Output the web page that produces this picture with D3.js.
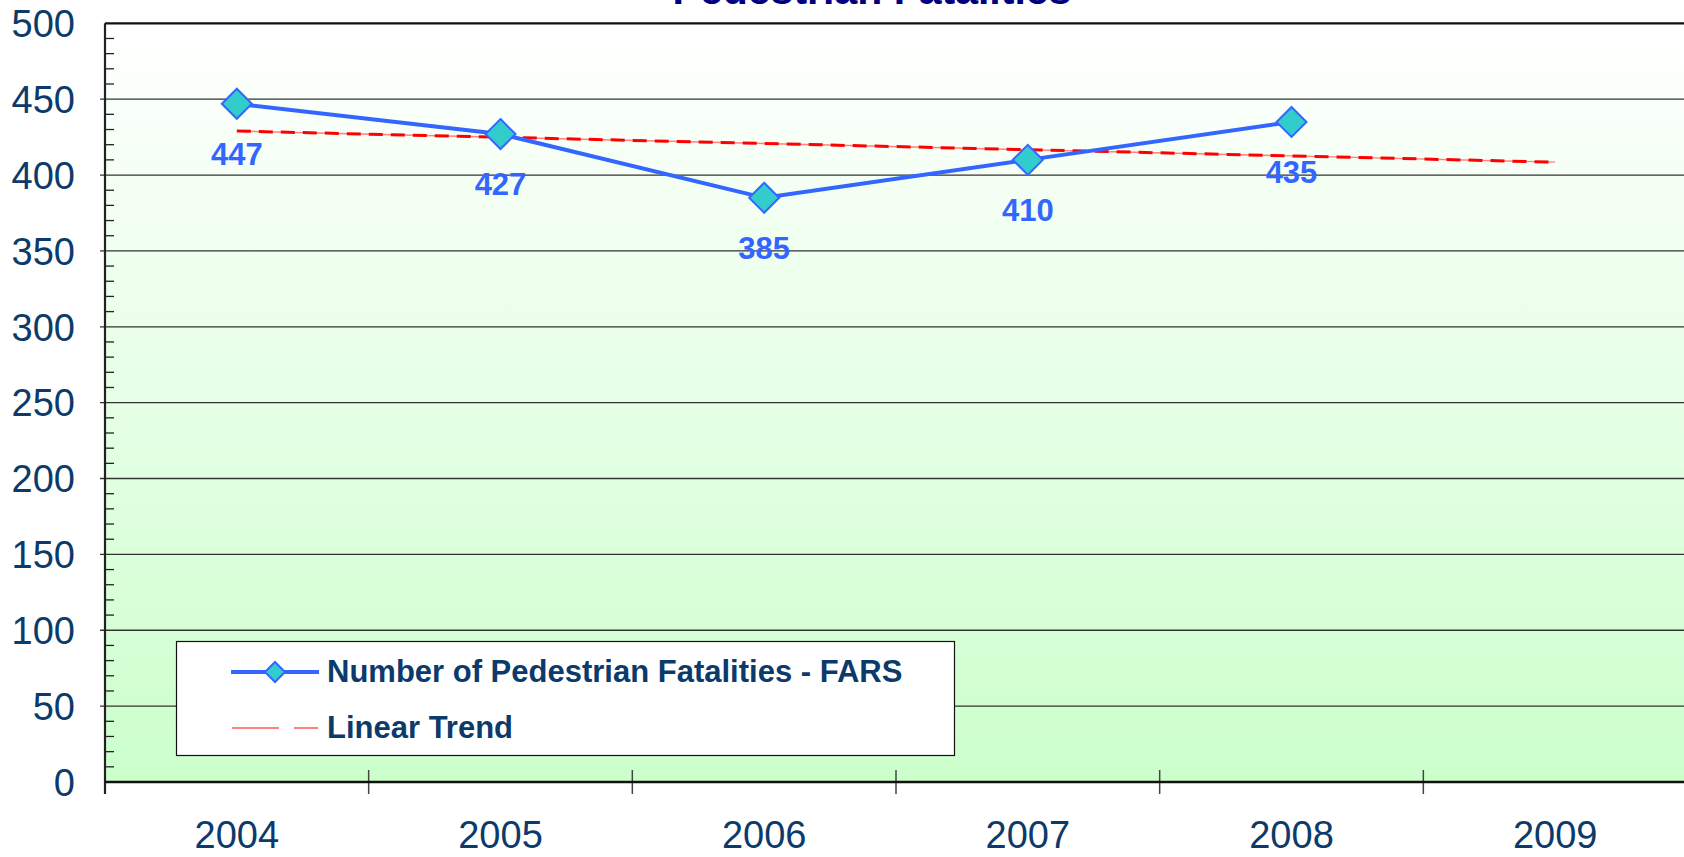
<html>
<head>
<script src="https://d3js.org/d3.v7.min.js"></script>
<style>
  body { margin: 0; background: #fff; }
  svg { display: block; font-family: "Liberation Sans", Arial, sans-serif; }
</style>
</head>
<body>
<svg id="chart" width="1684" height="857"></svg>
<script>
// data
const years = ["2004", "2005", "2006", "2007", "2008", "2009"];
const fatalities = [447, 427, 385, 410, 435];
const trend = [429, 424.9, 420.8, 416.7, 412.6, 408.5];
const yTicks = [0, 50, 100, 150, 200, 250, 300, 350, 400, 450, 500];
const minorTicks = d3.range(0, 501, 10);

const svg = d3.select("#chart");
const plot = {left: 105, right: 1687, top: 23.3, bottom: 782};
const navy = "#0b3a6b";

const x = d3.scaleBand().domain(years).range([plot.left, plot.right]).padding(0);
const y = d3.scaleLinear().domain([0, 500]).range([plot.bottom, plot.top]);
const cx = d => x(d) + x.bandwidth() / 2;

// background gradient
const grad = svg.append("defs").append("linearGradient")
    .attr("id", "bg").attr("x1", 0).attr("y1", 0).attr("x2", 0).attr("y2", 1);
grad.append("stop").attr("offset", "0%").attr("stop-color", "#ffffff");
grad.append("stop").attr("offset", "8%").attr("stop-color", "#fbfffb");
grad.append("stop").attr("offset", "100%").attr("stop-color", "#ccffcc");

svg.append("rect")
    .attr("x", plot.left).attr("y", plot.top)
    .attr("width", plot.right - plot.left).attr("height", plot.bottom - plot.top)
    .attr("fill", "url(#bg)");

// gridlines
svg.append("g").selectAll("line").data(yTicks.filter(d => d > 0 && d < 500)).join("line")
    .attr("x1", plot.left - 5).attr("x2", plot.right)
    .attr("y1", d => y(d)).attr("y2", d => y(d))
    .attr("stroke", "#333").attr("stroke-width", 1.3);

// top border
svg.append("line")
    .attr("x1", plot.left).attr("x2", plot.right)
    .attr("y1", plot.top).attr("y2", plot.top)
    .attr("stroke", "#111").attr("stroke-width", 2.2);

// y axis
const yAxis = d3.axisLeft(y).tickValues(yTicks).tickSize(0).tickPadding(30);
const gy = svg.append("g").attr("transform", "translate(" + plot.left + ",0)").call(yAxis);
gy.select(".domain").remove();
gy.selectAll("text").attr("font-size", 38).attr("fill", navy).attr("dy", "0.35em");

svg.append("g").selectAll("line").data(minorTicks.filter(d => d % 50 != 0)).join("line")
    .attr("x1", plot.left).attr("x2", plot.left + 9)
    .attr("y1", d => y(d)).attr("y2", d => y(d))
    .attr("stroke", "#222").attr("stroke-width", 1.3);

svg.append("line")
    .attr("x1", plot.left).attr("x2", plot.left)
    .attr("y1", plot.top).attr("y2", plot.bottom + 12)
    .attr("stroke", "#222").attr("stroke-width", 2.2);

// x axis
const xAxis = d3.axisBottom(x).tickSize(0).tickPadding(39);
const gx = svg.append("g").attr("transform", "translate(0," + plot.bottom + ")").call(xAxis);
gx.select(".domain").remove();
gx.selectAll("text").attr("font-size", 38).attr("fill", navy);

svg.append("g").selectAll("line").data(years.slice(1)).join("line")
    .attr("x1", d => x(d)).attr("x2", d => x(d))
    .attr("y1", plot.bottom - 12).attr("y2", plot.bottom + 12)
    .attr("stroke", "#444").attr("stroke-width", 1.5);

svg.append("line")
    .attr("x1", plot.left).attr("x2", plot.right)
    .attr("y1", plot.bottom).attr("y2", plot.bottom)
    .attr("stroke", "#111").attr("stroke-width", 2.5);

// title (mostly cut off at the top)
svg.append("text")
    .attr("x", 872).attr("y", 4)
    .attr("text-anchor", "middle")
    .attr("font-size", 41).attr("font-weight", "bold")
    .attr("fill", "#000080")
    .text("Pedestrian Fatalities");

// trend line
const trendLine = d3.line().x((d, i) => cx(years[i])).y(d => y(d));
svg.append("path").datum(trend)
    .attr("d", trendLine).attr("fill", "none")
    .attr("stroke", "#ff8080").attr("stroke-width", 1.4);
svg.append("path").datum(trend)
    .attr("d", trendLine).attr("fill", "none")
    .attr("stroke", "#ff0000").attr("stroke-width", 3)
    .attr("stroke-dasharray", "14,8");

// fatalities series
const line = d3.line().x((d, i) => cx(years[i])).y(d => y(d));
svg.append("path").datum(fatalities)
    .attr("d", line).attr("fill", "none")
    .attr("stroke", "#3366ff").attr("stroke-width", 4);

const diamond = r => "M0," + (-r) + "L" + r + ",0L0," + r + "L" + (-r) + ",0Z";

svg.append("g").selectAll("path").data(fatalities).join("path")
    .attr("transform", (d, i) => "translate(" + cx(years[i]) + "," + y(d) + ")")
    .attr("d", diamond(15))
    .attr("fill", "#33cccc").attr("stroke", "#3366ff").attr("stroke-width", 2);

svg.append("g").selectAll("text").data(fatalities).join("text")
    .attr("x", (d, i) => cx(years[i]))
    .attr("y", d => y(d) + 61)
    .attr("text-anchor", "middle")
    .attr("font-size", 31).attr("font-weight", "bold")
    .attr("fill", "#3366ff")
    .text(d => d);

// legend
const legend = svg.append("g");
legend.append("rect")
    .attr("x", 176.5).attr("y", 641.5).attr("width", 778).attr("height", 114)
    .attr("fill", "#fff").attr("stroke", "#111").attr("stroke-width", 1.2);

legend.append("line")
    .attr("x1", 231).attr("x2", 319).attr("y1", 672).attr("y2", 672)
    .attr("stroke", "#3366ff").attr("stroke-width", 4);
legend.append("path")
    .attr("transform", "translate(275,672)")
    .attr("d", diamond(10))
    .attr("fill", "#33cccc").attr("stroke", "#3366ff").attr("stroke-width", 2);
legend.append("line")
    .attr("x1", 232).attr("x2", 318).attr("y1", 728).attr("y2", 728)
    .attr("stroke", "#ff8080").attr("stroke-width", 2)
    .attr("stroke-dasharray", "47,15");

const legendNames = ["Number of Pedestrian Fatalities - FARS", "Linear Trend"];
legend.selectAll("text.lbl").data(legendNames).join("text")
    .attr("class", "lbl")
    .attr("x", 327)
    .attr("y", (d, i) => 682 + i * 56)
    .attr("font-size", 31).attr("font-weight", "bold")
    .attr("fill", navy)
    .text(d => d);
</script>
</body>
</html>
